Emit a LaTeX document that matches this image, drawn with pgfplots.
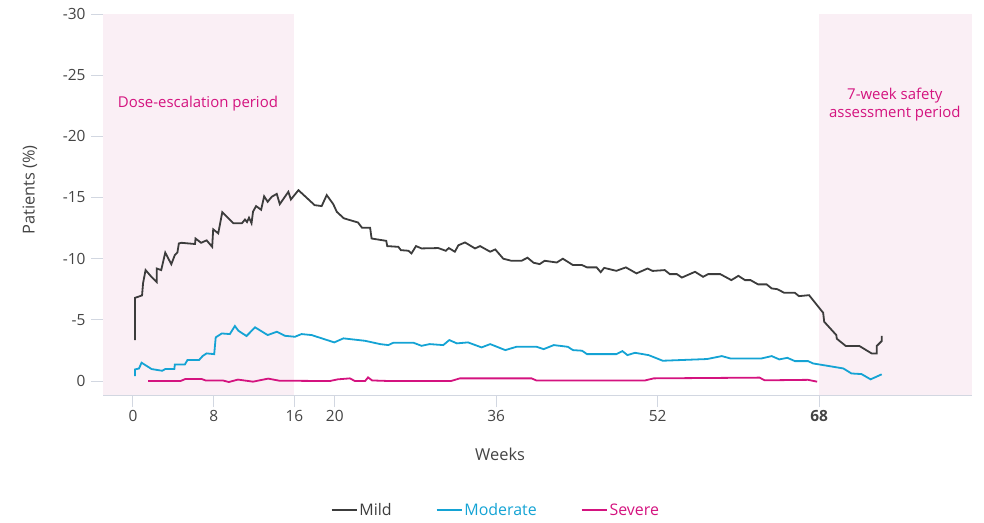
\documentclass[border=0pt]{standalone}
\usepackage{fontspec}
\setmainfont{Open Sans}
\usepackage{pgfplots}
\pgfplotsset{compat=1.18}
\definecolor{mild}{HTML}{3C3C3C}
\definecolor{moderate}{HTML}{14A3D4}
\definecolor{severe}{HTML}{D4137F}
\definecolor{pinkshade}{HTML}{FAEFF5}
\definecolor{axisgray}{HTML}{D2D7E1}
\definecolor{labgray}{HTML}{444444}
\begin{document}
\begin{tikzpicture}
\useasboundingbox (0,0) rectangle (984bp,523bp);
\begin{axis}[
  scale only axis, width=869bp, height=381bp,
  at={(103bp,128bp)}, anchor=south west,
  xmin=-2.97, xmax=83.15, ymin=-30, ymax=1.14, y dir=reverse,
  axis x line*=bottom, axis y line*=left,
  axis line style={draw=axisgray, line width=1bp, -},
  xtick={0,8,16,20,36,52,68},
  xticklabels={0,8,16,20,36,52,\textbf{68}},
  ytick={-30,-25,...,0},
  tick align=outside, major tick length=12bp,
  tick style={draw=axisgray, line width=1bp},
  /pgf/number format/assume math mode=true,
  tick label style={font=\fontsize{15.5}{17}\selectfont, text=labgray},
  yticklabel style={xshift=-2bp},
  label style={font=\fontsize{16.5}{18}\selectfont, text=labgray},
  xlabel={Weeks}, ylabel={Patients (\%)},
  xlabel style={at={(axis description cs:0.457,-0.157)}, anchor=center},
  ylabel style={at={(axis description cs:-0.084,0.538)}, anchor=center, rotate=0},
  legend columns=3,
  legend style={draw=none, fill=none, font=\fontsize{16}{18}\selectfont,
    at={(axis description cs:0.452,-0.302)}, anchor=center,
    /tikz/every even column/.append style={column sep=42bp}},
  legend image code/.code={\draw[#1] (0bp,0bp) -- (25bp,0bp);},
]
\fill[pinkshade] (axis cs:-2.97,-30) rectangle (axis cs:16,1.14);
\fill[pinkshade] (axis cs:68,-30) rectangle (axis cs:83.15,1.14);
\node[text=severe, font=\fontsize{15}{17}\selectfont] at (axis cs:6.44,-22.7) {Dose-escalation period};
\node[text=severe, font=\fontsize{15}{18}\selectfont, align=center] at (axis cs:75.5,-22.6) {7-week safety\\assessment period};
\addplot[mild, line width=1.8bp] coordinates {
(0.2,-3.35) (0.2,-6.8) (0.9,-7.0) (1.0,-8.0) (1.25,-9.07) (1.85,-8.5) (2.35,-8.1) (2.35,-9.2)
(2.8,-9.07) (3.2,-10.5) (3.8,-9.55) (4.15,-10.3) (4.4,-10.5) (4.55,-11.25) (4.8,-11.3) (6.15,-11.2)
(6.2,-11.65) (6.75,-11.3) (7.3,-11.5) (7.85,-10.97) (7.95,-12.4) (8.45,-12.07) (8.85,-13.8) (9.95,-12.9)
(10.8,-12.9) (11.1,-13.2) (11.3,-13.0) (11.5,-13.35) (11.75,-12.9) (11.9,-13.85) (12.2,-14.3) (12.7,-14.0)
(13.0,-15.1) (13.35,-14.65) (13.75,-15.06) (14.25,-15.3) (14.55,-14.46) (15.4,-15.47) (15.65,-14.84) (16.4,-15.6)
(18.0,-14.38) (18.7,-14.3) (19.2,-15.2) (19.85,-14.46) (20.2,-13.83) (20.9,-13.3) (22.3,-12.96) (22.7,-12.53)
(23.5,-12.53) (23.65,-11.65) (25.1,-11.46) (25.2,-11.03) (26.3,-10.97) (26.55,-10.7) (27.3,-10.65) (27.6,-10.43)
(28.05,-11.03) (28.6,-10.84) (30.25,-10.87) (31.0,-10.65) (31.3,-10.87) (31.9,-10.57) (32.25,-11.1) (32.9,-11.33)
(33.9,-10.84) (34.4,-11.03) (35.4,-10.57) (35.9,-10.76) (36.7,-10.0) (37.5,-9.83) (38.5,-9.83) (39.1,-10.08)
(39.7,-9.67) (40.3,-9.56) (40.8,-9.83) (42.0,-9.69) (42.6,-10.0) (43.6,-9.48) (44.5,-9.48) (45.0,-9.29)
(45.95,-9.29) (46.35,-8.9) (46.7,-9.25) (47.9,-9.01) (48.85,-9.29) (49.9,-8.8) (51.0,-9.2) (51.5,-9.0)
(52.7,-9.07) (53.2,-8.74) (53.9,-8.74) (54.4,-8.46) (55.7,-8.93) (56.5,-8.52) (57.0,-8.74) (58.2,-8.74)
(59.3,-8.25) (60.0,-8.6) (60.65,-8.25) (61.2,-8.25) (61.95,-7.9) (62.8,-7.9) (63.3,-7.57) (63.85,-7.51)
(64.55,-7.21) (65.6,-7.21) (66.0,-6.94) (67.0,-7.02) (68.4,-5.58) (68.5,-4.85) (69.7,-3.76) (69.75,-3.46)
(70.65,-2.86) (72.0,-2.86) (73.2,-2.26) (73.7,-2.26) (73.7,-2.86) (74.2,-3.27) (74.2,-3.7)
};
\addlegendentry{\textcolor{mild}{Mild}}
\addplot[moderate, line width=1.8bp] coordinates {
(0.2,-0.41) (0.2,-0.95) (0.6,-1.03) (0.85,-1.5) (1.85,-0.98) (2.9,-0.84) (3.2,-0.98) (4.1,-0.98)
(4.15,-1.36) (5.15,-1.36) (5.4,-1.72) (6.55,-1.72) (6.9,-2.04) (7.3,-2.26) (8.05,-2.2) (8.2,-3.57)
(8.8,-3.89) (9.6,-3.84) (10.1,-4.5) (10.45,-4.11) (11.25,-3.68) (12.1,-4.39) (13.35,-3.76) (14.25,-4.03)
(15.05,-3.7) (16.05,-3.62) (16.7,-3.84) (17.7,-3.76) (19.95,-3.16) (20.85,-3.49) (23.0,-3.29) (24.5,-3.02)
(25.3,-2.94) (25.8,-3.13) (27.8,-3.13) (28.6,-2.88) (29.4,-3.02) (30.75,-2.94) (31.35,-3.35) (32.1,-3.08)
(33.2,-3.16) (34.55,-2.75) (35.4,-3.02) (36.9,-2.53) (38.0,-2.8) (40.0,-2.8) (40.7,-2.61) (41.7,-2.94)
(43.1,-2.8) (43.6,-2.53) (44.5,-2.48) (45.0,-2.2) (47.9,-2.2) (48.5,-2.45) (49.0,-2.12) (49.75,-2.31)
(51.1,-2.12) (52.5,-1.66) (56.9,-1.8) (58.35,-2.04) (59.2,-1.85) (62.3,-1.85) (63.3,-2.04) (64.05,-1.77)
(64.85,-1.9) (65.6,-1.63) (66.9,-1.63) (67.4,-1.44) (70.4,-1.03) (71.2,-0.62) (72.2,-0.57) (73.1,-0.14)
(74.2,-0.55)
};
\addlegendentry{\textcolor{moderate}{Moderate}}
\addplot[severe, line width=1.8bp] coordinates {
(1.5,0) (4.7,0) (5.2,-0.17) (6.8,-0.17) (7.2,-0.05) (8.9,-0.05) (9.5,0.08) (10.4,-0.12)
(11.9,0.05) (13.4,-0.2) (14.5,-0.03) (19.5,0) (20.3,-0.14) (21.5,-0.22) (22.0,0) (23.0,0)
(23.3,-0.3) (23.7,-0.05) (25.5,0) (31.5,0) (32.4,-0.22) (39.5,-0.22) (40.0,-0.04) (50.7,-0.04)
(51.6,-0.22) (62.1,-0.28) (62.6,-0.06) (66.9,-0.1) (67.8,0.05)
};
\addlegendentry{\textcolor{severe}{Severe}}
\end{axis}
\end{tikzpicture}
\end{document}
